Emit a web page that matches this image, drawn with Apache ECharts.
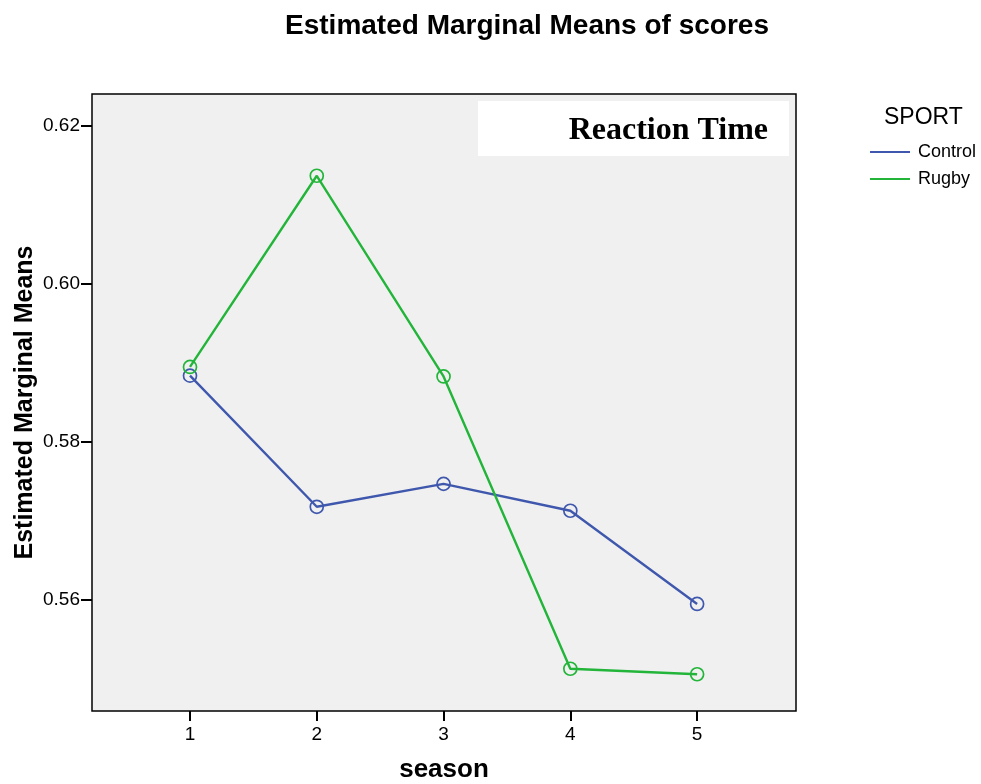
<!DOCTYPE html>
<html><head><meta charset="utf-8">
<script src="https://cdn.jsdelivr.net/npm/echarts@6/dist/echarts.min.js"></script>
<style>html,body{margin:0;padding:0;background:#fff}#c{width:981px;height:784px}</style>
</head><body><div id="c"></div>
<script>
const seasons = [1, 2, 3, 4, 5];
const yTicks = [0.56, 0.58, 0.60, 0.62];
const seriesNames = ['Control', 'Rugby'];
const controlValues = [0.5884, 0.5718, 0.5747, 0.5713, 0.5595];
const rugbyValues = [0.5895, 0.6137, 0.5883, 0.5513, 0.5506];
const colors = ['#3f58ad', '#22b53a'];

const chart = echarts.init(document.getElementById('c'));
const font = 'Liberation Sans, Arial, sans-serif';
function mk(name, vals, col) {
  return {
    name: name, type: 'line',
    data: seasons.map((s, i) => [s, vals[i]]),
    symbol: 'circle', symbolSize: 13,
    lineStyle: { color: col, width: 2.4 },
    itemStyle: { color: 'rgba(0,0,0,0)', borderColor: col, borderWidth: 1.7 },
    emphasis: { disabled: true },
    animation: false
  };
}
chart.setOption({
  animation: false,
  backgroundColor: '#fff',
  title: {
    text: 'Estimated Marginal Means of scores',
    left: 522, top: 7, textAlign: 'center',
    textStyle: { fontFamily: font, fontSize: 28, fontWeight: 'bold', color: '#000' }
  },
  grid: {
    left: 92, top: 94, width: 704, height: 617,
    outerBoundsMode: 'none', containLabel: false,
    show: true, backgroundColor: '#f0f0f0', borderColor: '#000', borderWidth: 1.5
  },
  xAxis: {
    type: 'value', min: 0.227, max: 5.78,
    name: 'season', nameLocation: 'middle', nameGap: 46, nameMoveOverlap: false,
    nameTextStyle: { fontFamily: font, fontSize: 26, fontWeight: 'bold', color: '#000' },
    axisLine: { show: false },
    splitLine: { show: false },
    axisTick: { show: true, length: 10, lineStyle: { color: '#000', width: 2 }, customValues: seasons },
    axisLabel: { fontFamily: font, fontSize: 19, color: '#000', margin: 14, customValues: seasons, formatter: v => String(v) }
  },
  yAxis: {
    type: 'value', min: 0.54595, max: 0.62405,
    name: 'Estimated Marginal Means', nameLocation: 'middle', nameGap: 54, nameMoveOverlap: false,
    nameTextStyle: { fontFamily: font, fontSize: 25, fontWeight: 'bold', color: '#000' },
    axisLine: { show: false },
    splitLine: { show: false },
    axisTick: { show: true, length: 11, lineStyle: { color: '#000', width: 2 }, customValues: yTicks },
    axisLabel: { fontFamily: font, fontSize: 19, color: '#000', margin: 12, customValues: yTicks, formatter: v => v.toFixed(2) }
  },
  legend: {
    orient: 'vertical', left: 865, top: 138,
    itemWidth: 40, itemHeight: 2, itemGap: 9,
    icon: 'rect',
    textStyle: { fontFamily: font, fontSize: 18, color: '#000', lineHeight: 18, padding: [0, 0, 0, 3] },
    data: seriesNames.map((n, i) => ({ name: n, itemStyle: { color: colors[i], borderWidth: 0 } })),
    selectedMode: false
  },
  graphic: [
    { type: 'text', left: 884, top: 106, style: { text: 'SPORT', fontFamily: font, fontSize: 23, fill: '#000' } },
    { type: 'rect', shape: { x: 478, y: 101, width: 311, height: 55 }, style: { fill: '#fff' }, z: 5 },
    { type: 'text', x: 768, y: 131, z: 6, style: { text: 'Reaction Time', align: 'right', verticalAlign: 'middle', fontFamily: 'Liberation Serif, Times New Roman, serif', fontSize: 32, fontWeight: 'bold', fill: '#000' } }
  ],
  series: [mk(seriesNames[0], controlValues, colors[0]), mk(seriesNames[1], rugbyValues, colors[1])]
});
</script></body></html>
